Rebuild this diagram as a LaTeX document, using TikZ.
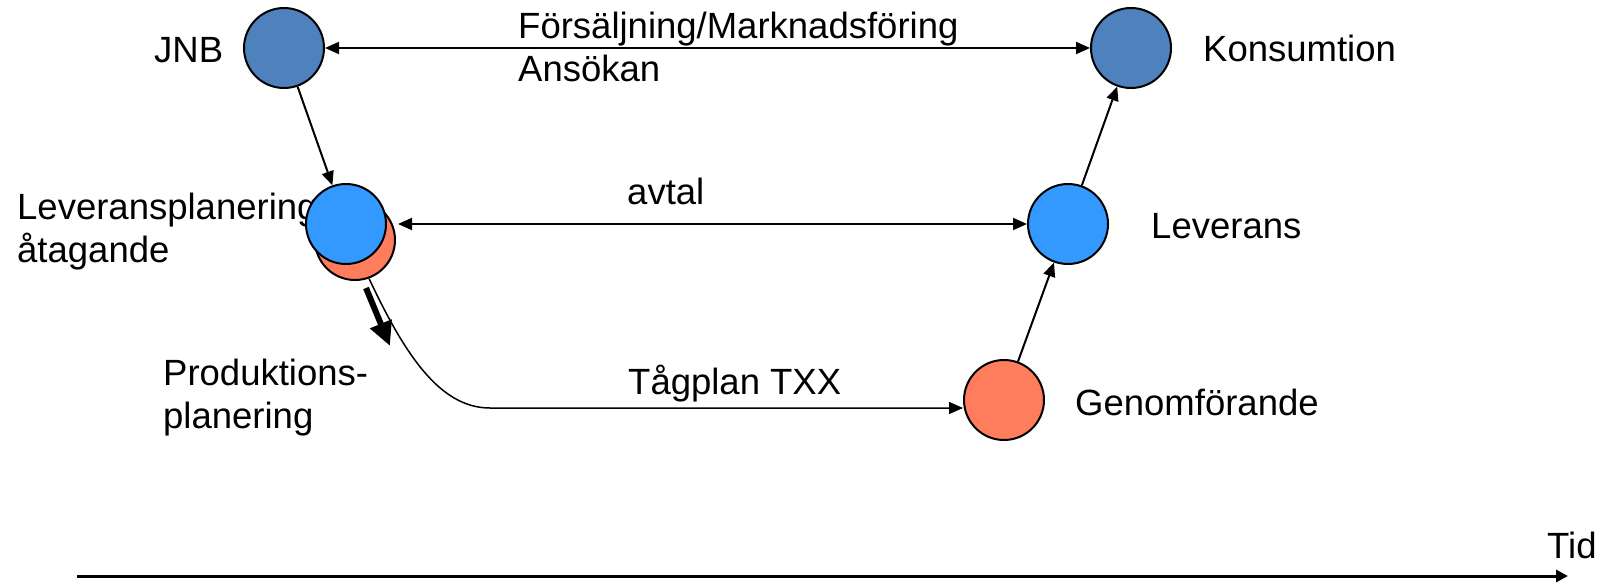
\documentclass[tikz,border=0pt]{standalone}
\usepackage{fontspec}
\setmainfont{Liberation Sans}
\usetikzlibrary{arrows.meta}
\definecolor{darkblue}{RGB}{79,129,189}
\definecolor{brightblue}{RGB}{51,153,255}
\definecolor{coral}{RGB}{255,124,92}
\begin{document}
\begin{tikzpicture}[x=1pt,y=-1pt,
  dot/.style={circle,draw=black,line width=2pt,minimum size=80pt,inner sep=0pt},
  lbl/.style={font=\fontsize{36.5}{43}\selectfont,inner sep=0pt,anchor=base west,align=left},
  conn/.style={line width=2pt,-{Triangle[length=14pt,width=12pt]}},
  dconn/.style={line width=2pt,{Triangle[length=14pt,width=12pt]}-{Triangle[length=14pt,width=12pt]}}]
\useasboundingbox (0,0) rectangle (1606,585);
% labels (multi-line nodes: base = baseline of last line)
\node[lbl] (tjnb) at (154,63) {JNB};
\node[lbl] (tkons) at (1203,62) {Konsumtion};
\node[lbl] (tlp) at (17,263) {Leveransplanering\\åtagande};
\node[lbl] (tlev) at (1151,239) {Leverans};
\node[lbl] (tgen) at (1075,415) {Genomförande};
\node[lbl] (tprod) at (163,428) {Produktions-\\planering};
\node[lbl] (tfm) at (518,82) {Försäljning/Marknadsföring\\Ansökan};
\node[lbl] (tavt) at (627,205) {avtal};
\node[lbl] (ttag) at (628,394) {Tågplan TXX};
\node[lbl] (ttid) at (1547,558) {Tid};
% circles
\node[dot,fill=darkblue] (jnb) at (284,48) {};
\node[dot,fill=darkblue] (kons) at (1131,48) {};
\node[dot,fill=coral] (lpo) at (355,240) {};
\node[dot,fill=brightblue] (lp) at (346,224) {};
\node[dot,fill=brightblue] (lev) at (1068,224) {};
\node[dot,fill=coral] (gen) at (1004,400) {};
% connectors
\draw[dconn] (jnb) -- (kons);
\draw[dconn] ([xshift=2pt]lev.west -| lpo.east) -- (lev.west);
\draw[conn] (jnb) -- (lp);
\draw[conn] (gen) -- (lev);
\draw[conn] (lev) -- (kons);
\coordinate (bend) at (490,408);
\draw[conn,line width=1.5pt] (lpo.-70) .. controls (405,355) and (440,408) .. (bend) -- (bend -| gen.west);
\coordinate (ta) at (366,288);
\coordinate (tb) at (390,346);
\draw[line width=6pt,-{Triangle[length=24pt,width=22pt]}] (ta) -- (tb);
\coordinate (t0) at (77,576);
\coordinate (t1) at (1568,576);
\draw[line width=3pt,-{Triangle[length=12pt,width=12pt]}] (t0) -- (t1);
\end{tikzpicture}
\end{document}
